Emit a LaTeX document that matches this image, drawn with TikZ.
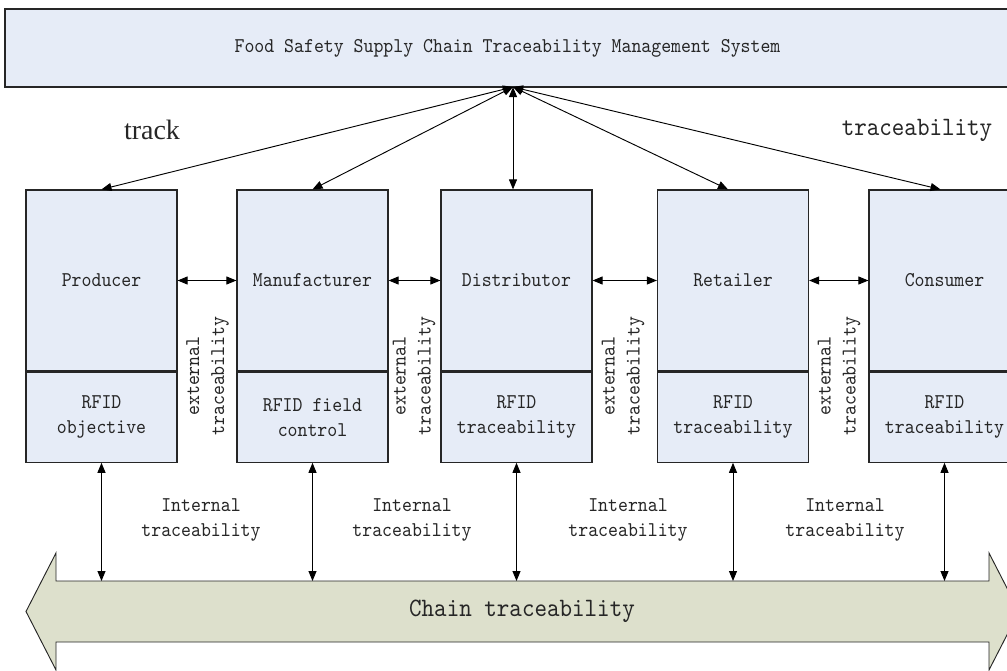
\documentclass[tikz,border=0pt]{standalone}
\usepackage{fontspec}
\newfontfamily\simfont[FakeStretch=0.9]{lmmono10-regular.otf}
\newfontfamily\serfont{Liberation Serif}
\usetikzlibrary{arrows.meta}
\definecolor{boxblue}{RGB}{230,236,247}
\definecolor{arrowgreen}{RGB}{221,224,204}
\begin{document}
\begin{tikzpicture}[x=0.75pt,y=-0.75pt,
  txt/.style={font=\simfont\fontsize{15.75}{18.75}\selectfont, text=black!85, align=center},
  bigtxt/.style={font=\simfont\fontsize{19.9}{22}\selectfont, text=black!85},
  box/.style={draw=black!85, line width=0.9pt, fill=boxblue, minimum width=113.25pt, inner sep=0pt, txt},
  upper/.style={box, minimum height=135.75pt},
  lower/.style={box, minimum height=67.5pt, anchor=north},
  conn/.style={black, line width=0.7pt, {Triangle[length=7.5pt,width=6pt]}-{Triangle[length=7.5pt,width=6pt]}},
]
\useasboundingbox (0,0) rectangle (1007,671);
\clip (0,0) rectangle (1007,671);

% top system bar
\node[box, minimum width=753.75pt, minimum height=58.5pt] (sys) at (507.5,48) {Food Safety Supply Chain Traceability Management System};
\coordinate (hub) at (513,87);

% labels
\node[font=\serfont\fontsize{21}{24}\selectfont, text=black!85] (track) at (152,130) {track};
\node[bigtxt] (trace) at (917,130) {traceability};

% boxes
\node[upper] (p) at (101.5,280.5) {Producer};
\node[lower] (pr) at (p.south) {RFID\\objective};
\node[upper] (m) at (312.5,280.5) {Manufacturer};
\node[lower] (mr) at (m.south) {RFID field\\control};
\node[upper] (d) at (516.5,280.5) {Distributor};
\node[lower] (dr) at (d.south) {RFID\\traceability};
\node[upper] (r) at (733,280.5) {Retailer};
\node[lower] (rr) at (r.south) {RFID\\traceability};
\node[upper] (c) at (944.5,280.5) {Consumer};
\node[lower] (cr) at (c.south) {RFID\\traceability};

% top connectors
\draw[conn] (hub) -- (p.north);
\draw[conn] (hub) -- (m.north);
\draw[conn] (hub) -- (hub |- d.north);
\draw[conn] (hub) -- ([xshift=-3.75pt]r.north);
\draw[conn] (hub) -- ([xshift=-3pt]c.north);

% horizontal connectors
\draw[conn] (p.east) -- (m.west);
\draw[conn] (m.east) -- (d.west);
\draw[conn] (d.east) -- (r.west);
\draw[conn] (r.east) -- (c.west);

% external traceability labels
\node[txt, rotate=90] (e1) at (207.5,376) {external\\traceability};
\node[txt, rotate=90] (e2) at (414,376) {external\\traceability};
\node[txt, rotate=90] (e3) at (623,376) {external\\traceability};
\node[txt, rotate=90] (e4) at (839,376) {external\\traceability};

% chain arrow
\draw[draw=black!85, line width=0.7pt, fill=arrowgreen]
  (26,611.5) -- (56,553) -- (56,581) -- (989,581) -- (989,553) -- (1019,611.5)
  -- (989,670) -- (989,642) -- (56,642) -- (56,670) -- cycle;
\node[bigtxt] (chain) at (522,611.5) {Chain traceability};
\coordinate (btop) at (0,581);

% bottom connectors
\draw[conn] (pr.south) -- (pr.south |- btop);
\draw[conn] (mr.south) -- (mr.south |- btop);
\draw[conn] (dr.south) -- (dr.south |- btop);
\draw[conn] (rr.south) -- (rr.south |- btop);
\draw[conn] (cr.south) -- (cr.south |- btop);

% internal traceability labels
\node[txt] (i1) at (201,520) {Internal\\traceability};
\node[txt] (i2) at (412,520) {Internal\\traceability};
\node[txt] (i3) at (628,520) {Internal\\traceability};
\node[txt] (i4) at (845,520) {Internal\\traceability};
\end{tikzpicture}
\end{document}
